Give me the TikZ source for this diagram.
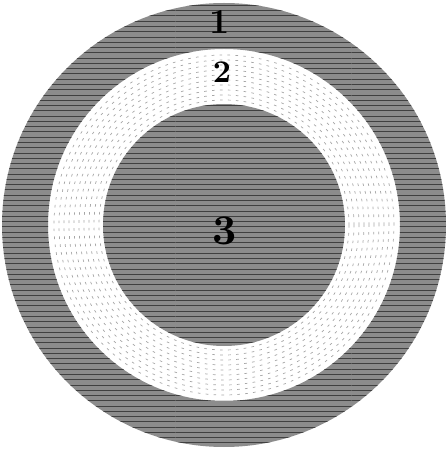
\documentclass[tikz,border=0pt]{standalone}
\usetikzlibrary{patterns}
\begin{document}
\begin{tikzpicture}
	\useasboundingbox (-4.48,-4.48) rectangle (4.44,4.50);
	\tikzset{dark/.style={fill=black!45, even odd rule},
		hatch/.style={pattern=horizontal lines, pattern color=black!75, even odd rule},
		digit/.style={font=\bfseries, inner sep=1pt}}

	\fill[dark] (0,0) circle (4.44) (0,0) circle (3.52);
	\fill[hatch] (0,0) circle (4.44) (0,0) circle (3.52);
	\foreach \r in {2.5,2.6,...,3.5}
		\draw[black!35, dash pattern=on 1.5pt off 3pt] (0,0) circle (\r);
	\fill[dark] (0,0) circle (2.42);
	\fill[hatch] (0,0) circle (2.42);

	\node[digit, scale=2.0] (n1) at (-0.08,4.06) {1};
	\node[digit, scale=1.8] (n2) at (-0.04,3.06) {2};
	\node[digit, scale=2.4] (n3) at (0.02,-0.12) {3};
\end{tikzpicture}
\end{document}
